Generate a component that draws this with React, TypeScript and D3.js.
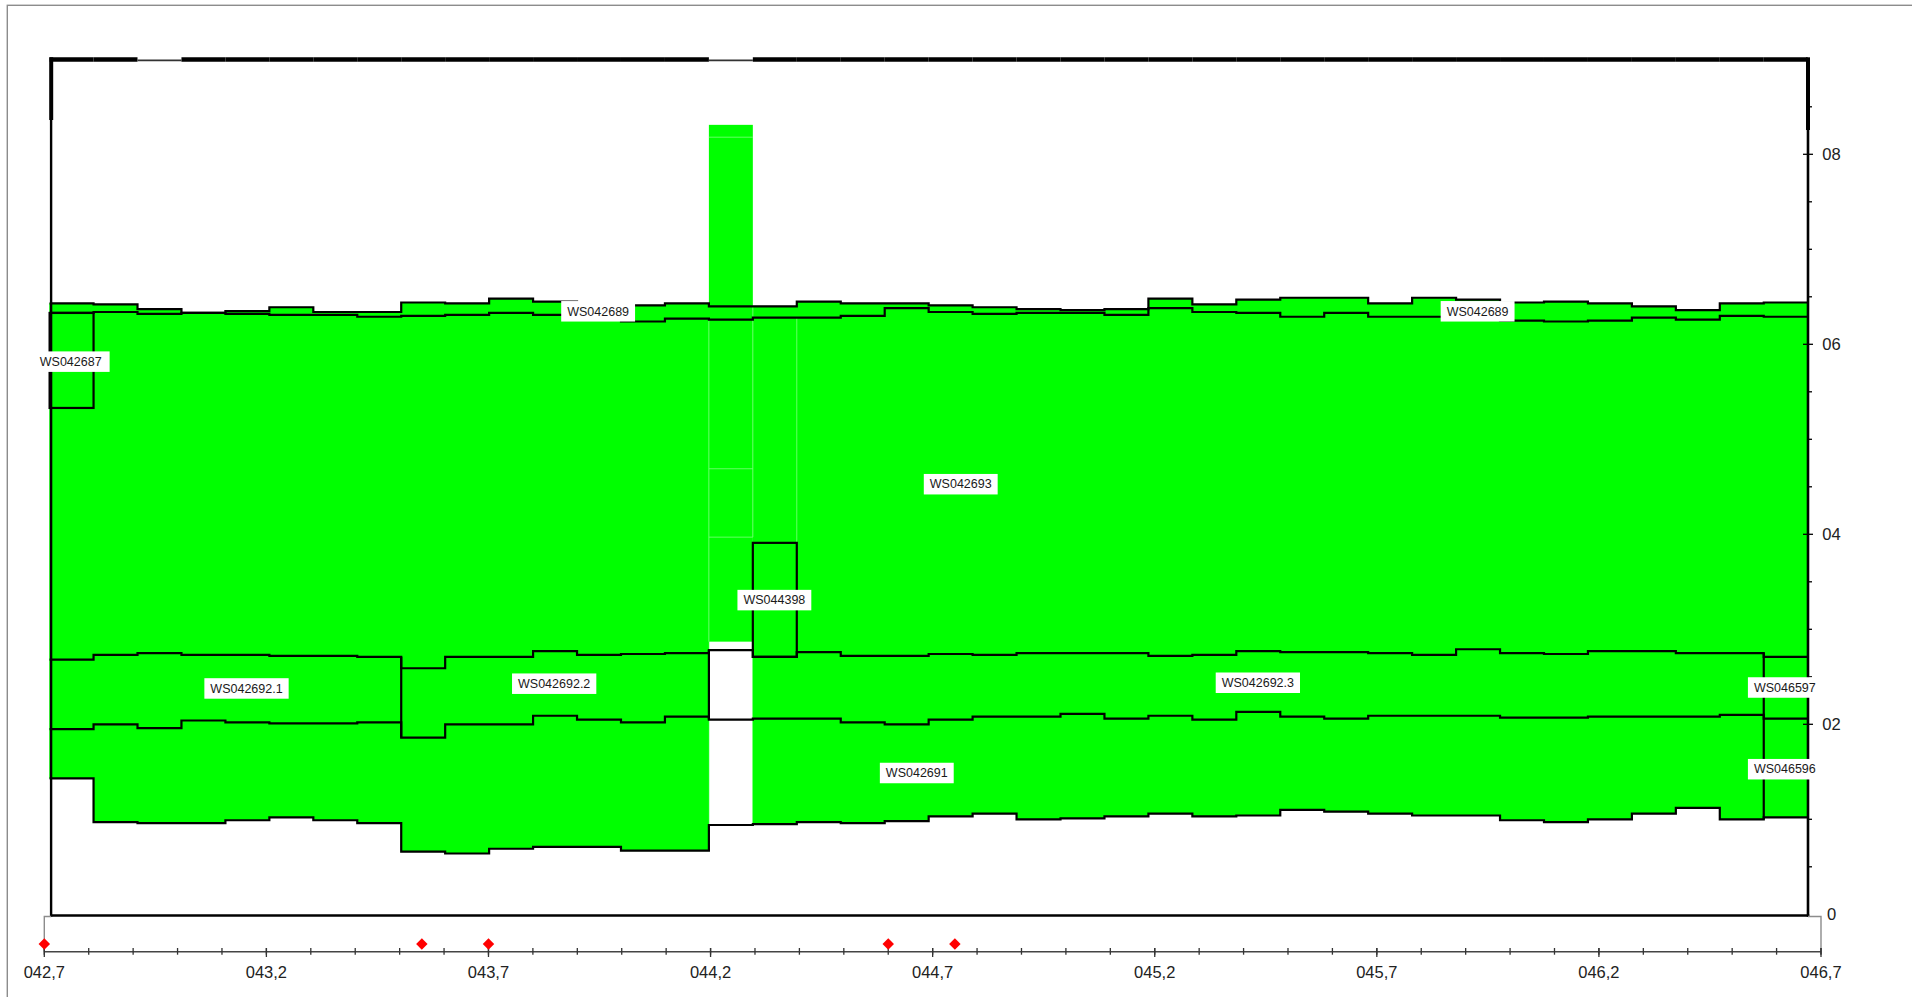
import React, { useEffect, useRef } from 'react';
import * as d3 from 'd3';

const W = 1912;
const H = 997;
const NCOLS = 40;

// Boundary lines of the stacked step bands (value per column, 40 columns)
const lineE = [6.43,6.42,6.37,6.33,6.35,6.39,6.34,6.34,6.44,6.43,6.48,6.45,6.43,6.41,6.43,6.40,6.40,6.45,6.43,6.43,6.41,6.39,6.37,6.36,6.37,6.48,6.42,6.47,6.49,6.49,6.43,6.49,6.47,6.44,6.45,6.43,6.40,6.36,6.43,6.44];
const lineD = [6.33,6.34,6.32,6.33,6.32,6.31,6.31,6.29,6.30,6.31,6.33,6.31,6.26,6.24,6.27,6.26,6.28,6.28,6.30,6.38,6.34,6.32,6.33,6.33,6.31,6.38,6.34,6.33,6.29,6.33,6.29,6.29,6.28,6.25,6.24,6.25,6.28,6.26,6.30,6.29];
const lineA = [2.68,2.73,2.75,2.73,2.73,2.72,2.72,2.71,2.59,2.71,2.71,2.77,2.73,2.74,2.75,2.78,2.71,2.76,2.72,2.72,2.74,2.73,2.75,2.75,2.75,2.72,2.73,2.77,2.76,2.76,2.75,2.73,2.79,2.75,2.74,2.77,2.77,2.75,2.75,2.71];
const lineB = [1.95,2.00,1.96,2.04,2.02,2.01,2.01,2.02,1.86,2.00,2.00,2.09,2.05,2.02,2.08,2.05,2.06,2.06,2.02,2.00,2.05,2.08,2.08,2.11,2.06,2.09,2.05,2.13,2.08,2.06,2.09,2.09,2.09,2.07,2.07,2.08,2.08,2.08,2.10,2.06];
const lineC = [1.43,0.97,0.96,0.96,0.99,1.02,0.99,0.96,0.66,0.64,0.69,0.71,0.71,0.67,0.67,0.94,0.95,0.97,0.96,0.98,1.03,1.06,1.00,1.01,1.03,1.06,1.03,1.04,1.10,1.08,1.06,1.04,1.04,0.99,0.97,1.00,1.06,1.12,1.00,1.02];

// Filled band segments: [name, lower line, upper line, first col, last col]
const bandNames = ['WS042691', 'WS042691', 'WS046596', 'WS042692.1', 'WS042692.2', 'WS042692.3', 'WS046597', 'WS042693', 'WS042693', 'WS042689'];
const bandLower = ['C', 'C', 'C', 'B', 'B', 'B', 'B', 'A', 'A', 'D'];
const bandUpper = ['B', 'B', 'B', 'A', 'A', 'A', 'A', 'D', 'D', 'E'];
const bandFrom = [0, 16, 39, 0, 8, 16, 39, 0, 16, 0];
const bandTo = [14, 38, 39, 7, 14, 38, 39, 14, 39, 39];

// Single-column blocks: [name, col, low, high, outlined]
const blockNames = ['spike', 'WS042687', 'WS044398'];
const blockCol = [15, 0, 16];
const blockLow = [2.87, 5.33, 2.71];
const blockHigh = [8.31, 6.33, 3.91];
const blockStroke = [false, true, true];

// Vertical separators between series segments
const dividerAt = [8, 15, 39];
const dividerTop = [2.71, 2.78, 2.75];
const dividerBottom = [1.86, 2.05, 1.00];

// faint seams inside the green
const seamVAt = [15, 16, 17];
const seamVLow = [2.87, 3.97, 3.91];
const seamVHigh = [6.26, 6.40, 6.28];
const seamHCol = [15, 15, 15];
const seamHVal = [8.18, 4.69, 3.97];

// Top border thin columns
const thinTopCols = [2, 15];

// Labels
const labelText = ['WS042687', 'WS042689', 'WS042689', 'WS042693', 'WS044398', 'WS042692.1', 'WS042692.2', 'WS042692.3', 'WS042691', 'WS046597', 'WS046596'];
const labelCol = [0.48, 12.48, 32.49, 20.73, 16.49, 4.48, 11.48, 27.49, 19.73, 39.48, 39.48];
const labelVal = [5.82, 6.35, 6.35, 4.53, 3.31, 2.38, 2.43, 2.44, 1.49, 2.39, 1.53];
const labelPadR = [8, 6, 6, 6, 6, 6, 6, 6, 6, 0.5, 0.5];
const labelPadL = [3, 6, 6, 6, 6, 6, 6, 6, 6, 6, 6];

// Axes
const kmMajor = d3.range(427, 468, 5).map((v) => v / 10);
const kmMinor = d3.range(427, 468, 1).map((v) => v / 10);
const kmMarks = [42.7, 43.55, 43.7, 44.6, 44.75];
const yMajor = [0, 2, 4, 6, 8];
const yMinor = d3.range(1, 18).map((v) => v / 2).filter((v) => v % 2 !== 0);

const GREEN = '#00ff00';
const FONT = '"Liberation Sans", Arial, Helvetica, sans-serif';

export default function App() {
  const ref = useRef<SVGSVGElement>(null);

  useEffect(() => {
    const svg = d3.select(ref.current);
    svg.selectAll('*').remove();

    const x = d3.scaleLinear().domain([0, NCOLS]).range([49.6, 1807.7]);
    const y = d3.scaleLinear().domain([0, 9]).range([914.3, 59.3]);
    const xKm = d3.scaleLinear().domain([42.7, 46.7]).range([44.3, 1821]);

    const lines: Record<string, number[]> = { A: lineA, B: lineB, C: lineC, D: lineD, E: lineE };

    // outer gray frame
    svg.append('rect').attr('x', 7.3).attr('y', 5.3).attr('width', W).attr('height', H)
      .attr('fill', 'none').attr('stroke', '#8c8c8c').attr('stroke-width', 1.4);

    const area = d3.area<[number, number, number]>()
      .x((d) => x(d[0])).y0((d) => y(d[1])).y1((d) => y(d[2]))
      .curve(d3.curveStepAfter);

    const gFill = svg.append('g');
    bandNames.forEach((name, k) => {
      const lo = lines[bandLower[k]];
      const hi = lines[bandUpper[k]];
      const pts: [number, number, number][] = [];
      for (let i = bandFrom[k]; i <= bandTo[k]; i++) pts.push([i, lo[i], hi[i]]);
      pts.push([bandTo[k] + 1, lo[bandTo[k]], hi[bandTo[k]]]);
      gFill.append('path').attr('d', area(pts) as string).attr('fill', GREEN)
        .attr('stroke', GREEN).attr('stroke-width', 0.6).attr('data-name', name);
    });

    blockNames.forEach((name, k) => {
      gFill.append('rect')
        .attr('x', x(blockCol[k])).attr('width', x(blockCol[k] + 1) - x(blockCol[k]))
        .attr('y', y(blockHigh[k])).attr('height', y(blockLow[k]) - y(blockHigh[k]))
        .attr('fill', GREEN).attr('data-name', name);
    });

    // faint seams
    const gSeam = svg.append('g').attr('stroke', '#7dff7d').attr('stroke-width', 0.8);
    seamVAt.forEach((c, k) => {
      gSeam.append('line').attr('x1', x(c)).attr('x2', x(c)).attr('y1', y(seamVHigh[k])).attr('y2', y(seamVLow[k]));
    });
    seamHCol.forEach((c, k) => {
      gSeam.append('line').attr('x1', x(c)).attr('x2', x(c + 1)).attr('y1', y(seamHVal[k])).attr('y2', y(seamHVal[k]));
    });

    // step lines
    const line = d3.line<[number, number]>().x((d) => x(d[0])).y((d) => y(d[1])).curve(d3.curveStepAfter);
    const gLines = svg.append('g').attr('fill', 'none').attr('stroke', '#000').attr('stroke-width', 2.2);
    ['C', 'B', 'A', 'D', 'E'].forEach((key) => {
      const vals = lines[key];
      const pts: [number, number][] = vals.map((v, i) => [i, v]);
      pts.push([NCOLS, vals[NCOLS - 1]]);
      gLines.append('path').attr('d', line(pts) as string);
    });

    // outlined blocks
    blockNames.forEach((name, k) => {
      if (!blockStroke[k]) return;
      gLines.append('rect')
        .attr('x', x(blockCol[k])).attr('width', x(blockCol[k] + 1) - x(blockCol[k]))
        .attr('y', y(blockHigh[k])).attr('height', y(blockLow[k]) - y(blockHigh[k]));
    });

    dividerAt.forEach((c, k) => {
      gLines.append('line').attr('x1', x(c)).attr('x2', x(c))
        .attr('y1', y(dividerTop[k])).attr('y2', y(dividerBottom[k]));
    });

    // plot frame
    const left = x(0) + 1.6;
    const right = x(NCOLS) + 0.3;
    const top = y(9) + 0.2;
    const bottom = y(0) + 1.2;
    const gFrame = svg.append('g').attr('stroke', '#000');
    for (let i = 0; i < NCOLS; i++) {
      const thin = thinTopCols.includes(i);
      gFrame.append('line').attr('x1', x(i)).attr('x2', x(i + 1))
        .attr('y1', thin ? top + 0.9 : top).attr('y2', thin ? top + 0.9 : top)
        .attr('stroke', thin ? '#333' : '#000')
        .attr('stroke-width', thin ? 1.6 : 4.4);
    }
    gFrame.append('line').attr('x1', left).attr('x2', left).attr('y1', top - 2.2).attr('y2', 120).attr('stroke-width', 4);
    gFrame.append('line').attr('x1', left - 0.1).attr('x2', left - 0.1).attr('y1', 120).attr('y2', bottom + 1.2).attr('stroke-width', 2.4);
    gFrame.append('line').attr('x1', right).attr('x2', right).attr('y1', top - 2.2).attr('y2', 130).attr('stroke-width', 4);
    gFrame.append('line').attr('x1', right).attr('x2', right).attr('y1', 130).attr('y2', bottom + 1.2).attr('stroke-width', 2.6);
    gFrame.append('line').attr('x1', left - 1.2).attr('x2', right + 1.3).attr('y1', bottom).attr('y2', bottom).attr('stroke-width', 2.4);

    // right y axis ticks
    const gY = svg.append('g').attr('stroke', '#000').attr('stroke-width', 1.3);
    yMajor.filter((v) => v > 0).forEach((v) => {
      gY.append('line').attr('x1', right - 5).attr('x2', right + 5).attr('y1', y(v)).attr('y2', y(v));
    });
    yMinor.forEach((v) => {
      gY.append('line').attr('x1', right).attr('x2', right + 4).attr('y1', y(v)).attr('y2', y(v));
    });
    yMajor.forEach((v) => {
      svg.append('text').attr('x', 1831.5).attr('y', y(v) + 6).attr('text-anchor', 'middle')
        .attr('font-family', FONT).attr('font-size', 16.6).attr('fill', '#222')
        .text(v === 0 ? '0' : d3.format('02d')(v));
    });

    // bottom km axis
    const axisY = 951.7;
    svg.append('path')
      .attr('d', `M${xKm(42.7)},${axisY} V${bottom + 1} H${left}`)
      .attr('fill', 'none').attr('stroke', '#8c8c8c').attr('stroke-width', 1.4);
    svg.append('path')
      .attr('d', `M${xKm(46.7)},${axisY + 2.5} V${bottom + 1} H${right}`)
      .attr('fill', 'none').attr('stroke', '#8c8c8c').attr('stroke-width', 1.4);
    svg.append('line').attr('x1', xKm(42.7)).attr('x2', xKm(46.7)).attr('y1', axisY).attr('y2', axisY)
      .attr('stroke', '#444').attr('stroke-width', 1.5);
    const gX = svg.append('g').attr('stroke', '#333').attr('stroke-width', 1.3);
    kmMinor.forEach((v) => {
      gX.append('line').attr('x1', xKm(v)).attr('x2', xKm(v)).attr('y1', axisY - 3.7).attr('y2', axisY + 3);
    });
    kmMajor.forEach((v) => {
      gX.append('line').attr('x1', xKm(v)).attr('x2', xKm(v)).attr('y1', axisY - 3.7).attr('y2', axisY + 5.3);
      svg.append('text').attr('x', xKm(v)).attr('y', 977.6).attr('text-anchor', 'middle')
        .attr('font-family', FONT).attr('font-size', 16.5).attr('fill', '#222')
        .text(d3.format('05.1f')(v).replace('.', ','));
    });
    const diamond = d3.symbol().type(d3.symbolSquare).size(66);
    kmMarks.forEach((v) => {
      svg.append('path').attr('d', diamond() as string)
        .attr('transform', `translate(${xKm(v)},944) rotate(45)`)
        .attr('fill', '#ff0000');
    });

    // series labels
    labelText.forEach((t, k) => {
      const g = svg.append('g');
      const rect = g.append('rect').attr('fill', '#fff');
      const text = g.append('text').attr('x', x(labelCol[k])).attr('y', y(labelVal[k]) + 4.5)
        .attr('text-anchor', 'middle').attr('font-family', FONT).attr('font-size', 12.5)
        .attr('fill', '#1a1a1a').text(t);
      const node = text.node() as SVGTextElement;
      const w = node.getComputedTextLength();
      const cx = x(labelCol[k]);
      const cy = y(labelVal[k]);
      rect.attr('x', cx - w / 2 - labelPadL[k]).attr('width', w + labelPadL[k] + labelPadR[k])
        .attr('y', cy - 10).attr('height', 20.5);
    });
  }, []);

  return (
    <svg
      ref={ref}
      width={W}
      height={H}
      style={{ position: 'absolute', left: 0, top: 0, background: '#fff', display: 'block' }}
    />
  );
}
